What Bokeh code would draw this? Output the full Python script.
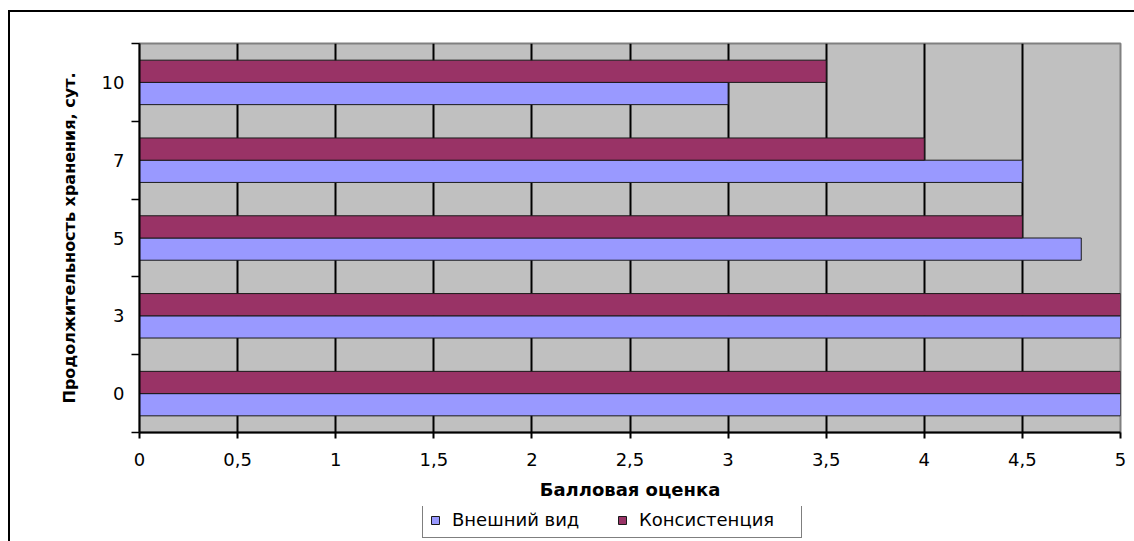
from bokeh.plotting import figure
from bokeh.layouts import column
from bokeh.models import (ColumnDataSource, Range1d, FixedTicker, CustomJSTickFormatter,
                          Legend, LegendItem, InlineStyleSheet)
from bokeh.transform import dodge
from bokeh.embed import file_html
from bokeh.resources import INLINE

# ---- data ----
categories = ["0", "3", "5", "7", "10"]
vneshniy_vid = [5, 5, 4.8, 4.5, 3]
konsistenciya = [5, 5, 4.5, 4, 3.5]
x_ticks = [0, 0.5, 1, 1.5, 2, 2.5, 3, 3.5, 4, 4.5, 5]
series_names = ["Внешний вид", "Консистенция"]
series_colors = ["#9999FF", "#993366"]
x_title = "Балловая оценка"
y_title = "Продолжительность хранения, сут."

ypos = list(range(len(categories)))
src = ColumnDataSource(dict(y=ypos, a=vneshniy_vid, b=konsistenciya, cat=categories))

bar_h = 1 / 3.5
FONT = "DejaVu Sans"

p = figure(width=1124, height=494, output_backend="svg", toolbar_location=None,
           x_range=Range1d(x_ticks[0], x_ticks[-1]),
           y_range=Range1d(ypos[0] - 0.5, ypos[-1] + 0.5),
           min_border_left=129, min_border_right=14, min_border_top=31, min_border_bottom=74,
           background_fill_color="#C0C0C0", border_fill_color="white")

p.outline_line_color = "#808080"
p.outline_line_width = 2

r1 = p.hbar(y=dodge("y", -bar_h / 2), left=0, right="a", height=bar_h, source=src,
            fill_color=series_colors[0], line_color="#1a1a1a", line_width=1)
r2 = p.hbar(y=dodge("y", bar_h / 2), left=0, right="b", height=bar_h, source=src,
            fill_color=series_colors[1], line_color="#1a1a1a", line_width=1)

# grid
p.ygrid.grid_line_color = None
p.xgrid.ticker = FixedTicker(ticks=x_ticks[1:-1])
p.xgrid.grid_line_color = "black"
p.xgrid.grid_line_width = 2

# x axis
xa = p.xaxis[0]
xa.ticker = FixedTicker(ticks=x_ticks)
xa.formatter = CustomJSTickFormatter(code="return tick.toString().replace('.', ',');")
xa.axis_line_color = "black"
xa.axis_line_width = 2
xa.major_tick_line_color = "black"
xa.major_tick_line_width = 2
xa.major_tick_out = 6
xa.major_tick_in = 0
xa.minor_tick_line_color = None
xa.major_label_text_font = FONT
xa.major_label_text_font_size = "18px"
xa.major_label_text_color = "black"
xa.major_label_standoff = 14
xa.axis_label = x_title
xa.axis_label_text_font = FONT
xa.axis_label_text_font_style = "bold"
xa.axis_label_text_font_size = "18px"
xa.axis_label_text_color = "black"
xa.axis_label_standoff = 10

# y axis
ya = p.yaxis[0]
boundaries = [v - 0.5 for v in ypos] + [ypos[-1] + 0.5]
ya.ticker = FixedTicker(ticks=ypos, minor_ticks=boundaries)
ya.formatter = CustomJSTickFormatter(args=dict(labels=categories),
                                     code="return labels[Math.round(tick)];")
ya.axis_line_color = "black"
ya.axis_line_width = 2
ya.major_tick_out = 0
ya.major_tick_in = 0
ya.major_tick_line_color = None
ya.minor_tick_line_color = "black"
ya.minor_tick_line_width = 1.5
ya.minor_tick_out = 8
ya.minor_tick_in = 0
ya.major_label_text_font = FONT
ya.major_label_text_font_size = "18px"
ya.major_label_text_color = "black"
ya.major_label_standoff = 7
ya.axis_label = y_title
ya.axis_label_text_font = FONT
ya.axis_label_text_font_style = "bold"
ya.axis_label_text_font_size = "16px"
ya.axis_label_text_color = "black"
ya.axis_label_standoff = 20

# legend figure (below the chart); its bars lie outside its visible range
lf = figure(width=1124, height=35, output_backend="svg", toolbar_location=None,
            x_range=Range1d(0, 1), y_range=Range1d(0, 1),
            min_border=0, border_fill_color="white", background_fill_color="white")
lf.axis.visible = False
lf.grid.visible = False
lf.outline_line_color = None
l1 = lf.hbar(y=[-10], left=0, right=[vneshniy_vid[0]], height=1,
             fill_color=series_colors[0], line_color="#1a1a1a", line_width=1)
l2 = lf.hbar(y=[-10], left=0, right=[konsistenciya[0]], height=1,
             fill_color=series_colors[1], line_color="#1a1a1a", line_width=1)
legend = Legend(items=[LegendItem(label=series_names[0], renderers=[l1]),
                       LegendItem(label=series_names[1], renderers=[l2])],
                location=(283, 3), orientation="horizontal",
                padding=7, spacing=10, margin=0,
                glyph_width=10, glyph_height=10, label_standoff=12,
                label_width=155, label_height=18,
                label_text_font=FONT, label_text_font_size="18px", label_text_color="black",
                border_line_color="black", border_line_width=1,
                background_fill_color="white", background_fill_alpha=1)
lf.add_layout(legend, "center")

layout = column(p, lf, spacing=0)
layout.margin = (10, 0, 0, 8)
layout.stylesheets = [InlineStyleSheet(css=":host { border-left: 2px solid black; border-top: 2px solid black; }")]

open("out.html", "w").write(file_html(layout, INLINE))
